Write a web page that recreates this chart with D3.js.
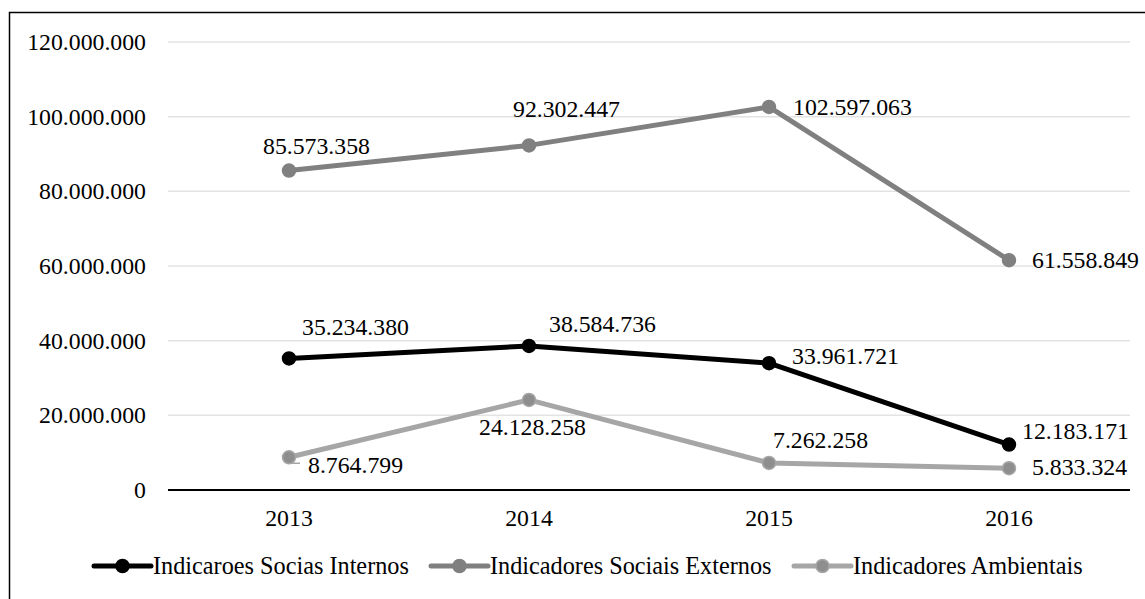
<!DOCTYPE html>
<html>
<head>
<meta charset="utf-8">
<script src="https://cdn.jsdelivr.net/npm/d3@7"></script>
<style>
  body { margin: 0; background: #fff; }
</style>
</head>
<body>
<svg id="chart" width="1145" height="599"></svg>
<script>
// data
let years = ['2013', '2014', '2015', '2016'];
let seriesNames = ['Indicaroes Socias Internos', 'Indicadores Sociais Externos', 'Indicadores Ambientais'];
let internos = [35234380, 38584736, 33961721, 12183171];
let externos = [85573358, 92302447, 102597063, 61558849];
let ambientais = [8764799, 24128258, 7262258, 5833324];
let yTicks = [0, 20000000, 40000000, 60000000, 80000000, 100000000, 120000000];

// styles
let lineColors = ['#000000', '#808080', '#a6a6a6'];
let dotColors = ['#000000', '#808080', '#8e8e8e'];
// label offsets (dx, dy) from each point, per series
let labelOffsets = [
  [[13, -23], [20, -14], [23, 1], [13, -6]],
  [[-26, -17], [-16, -28], [24, 8], [23, 8]],
  [[19, 16], [-50, 35], [4, -15], [23, 7]]
];

// pick an installed serif face (fallback goes to sans otherwise)
function pickFont(cands){
  let ctx = document.createElement('canvas').getContext('2d');
  let probe = 'Indicadores 0123456789 mmmWWiil';
  let base = {};
  for(let b of ['monospace', 'sans-serif']){
    ctx.font = `40px ${b}`;
    base[b] = ctx.measureText(probe).width;
  }
  for(let c of cands){
    let ok = ['monospace', 'sans-serif'].every(b=>{
      ctx.font = `40px "${c}", ${b}`;
      return Math.abs(ctx.measureText(probe).width - base[b]) > 0.5;
    });
    if(ok) return c;
  }
  return 'serif';
}
let family = pickFont(['Liberation Serif', 'Tinos', 'Times New Roman', 'Nimbus Roman', 'Nimbus Roman No9 L', 'FreeSerif', 'Noto Serif', 'DejaVu Serif']);

let svg = d3.select('#chart').attr('font-family', `"${family}", serif`);
let fmt = d3.formatLocale({decimal: ',', thousands: '.', grouping: [3], currency: ['', '']}).format(',d');

// scale font size so a reference label is ~107px wide, as in the original
let probeText = svg.append('text').attr('font-size', 100).text('85.573.358');
let fs = 100 * 107 / probeText.node().getComputedTextLength();
probeText.remove();
fs = Math.min(fs, 24);

let x = d3.scaleBand().domain(years).range([169, 1129]).padding(0);
let cx = d => x(d) + x.bandwidth() / 2;
let y = d3.scaleLinear().domain([0, 120000000]).range([490, 42]);

// outer frame
svg.append('rect')
  .attr('x', 9.5).attr('y', 12.5)
  .attr('width', 1160).attr('height', 620)
  .attr('fill', 'none').attr('stroke', '#000').attr('stroke-width', 1.5);

// gridlines
svg.selectAll('.grid')
  .data(yTicks.filter(d => d > 0))
  .join('line')
  .attr('class', 'grid')
  .attr('x1', 168).attr('x2', 1130)
  .attr('y1', d => y(d)).attr('y2', d => y(d))
  .attr('stroke', '#e3e3e3').attr('stroke-width', 1.5);

// y tick labels
svg.selectAll('.ytick')
  .data(yTicks)
  .join('text')
  .attr('class', 'ytick')
  .attr('x', 146)
  .attr('y', d => y(d) + 8)
  .attr('text-anchor', 'end')
  .attr('font-size', fs)
  .text(d => fmt(d));

// x axis line
svg.append('line')
  .attr('x1', 168).attr('x2', 1130)
  .attr('y1', y(0)).attr('y2', y(0))
  .attr('stroke', '#000').attr('stroke-width', 2);

svg.selectAll('.xtick')
  .data(years)
  .join('text')
  .attr('class', 'xtick')
  .attr('x', d => cx(d))
  .attr('y', 526)
  .attr('text-anchor', 'middle')
  .attr('font-size', fs)
  .text(d => d);

let allSeries = [internos, externos, ambientais];
let line = d3.line().x((d, i) => cx(years[i])).y(d => y(d));

// leader line for first ambientais label
svg.append('path')
  .attr('d', `M${cx(years[0])},${y(ambientais[0])} L${cx(years[0]) + 3},${y(ambientais[0]) + 6} L${cx(years[0]) + 11},${y(ambientais[0]) + 6}`)
  .attr('fill', 'none').attr('stroke', '#a6a6a6').attr('stroke-width', 1.5);

// draw back-to-front: ambientais, externos, internos
[2, 1, 0].forEach(si => {
  let vals = allSeries[si];
  let g = svg.append('g');
  g.append('path')
    .datum(vals)
    .attr('d', line)
    .attr('fill', 'none')
    .attr('stroke', lineColors[si])
    .attr('stroke-width', 5)
    .attr('stroke-linejoin', 'round');
  g.selectAll('circle')
    .data(vals)
    .join('circle')
    .attr('cx', (d, i) => cx(years[i]))
    .attr('cy', d => y(d))
    .attr('r', 6.5)
    .attr('fill', dotColors[si])
    .attr('stroke', si === 2 ? '#a6a6a6' : dotColors[si])
    .attr('stroke-width', 1.5);
});

// data labels
allSeries.forEach((vals, si) => {
  svg.selectAll(`.lbl${si}`)
    .data(vals)
    .join('text')
    .attr('class', `lbl${si}`)
    .attr('x', (d, i) => cx(years[i]) + labelOffsets[si][i][0])
    .attr('y', (d, i) => y(d) + labelOffsets[si][i][1])
    .attr('font-size', fs)
    .text(d => fmt(d));
});

// legend
let legendX = [94, 431, 794];
let legendW = 57;
let ly = 566;
seriesNames.forEach((name, si) => {
  let g = svg.append('g');
  g.append('line')
    .attr('x1', legendX[si]).attr('x2', legendX[si] + legendW)
    .attr('y1', ly).attr('y2', ly)
    .attr('stroke', lineColors[si]).attr('stroke-width', 5)
    .attr('stroke-linecap', 'round');
  g.append('circle')
    .attr('cx', legendX[si] + legendW / 2).attr('cy', ly)
    .attr('r', 6.5)
    .attr('fill', dotColors[si])
    .attr('stroke', si === 2 ? '#a6a6a6' : dotColors[si])
    .attr('stroke-width', 1.5);
  g.append('text')
    .attr('x', legendX[si] + legendW + 2)
    .attr('y', ly + 8)
    .attr('font-size', fs * 1.02)
    .text(name);
});
</script>
</body>
</html>
